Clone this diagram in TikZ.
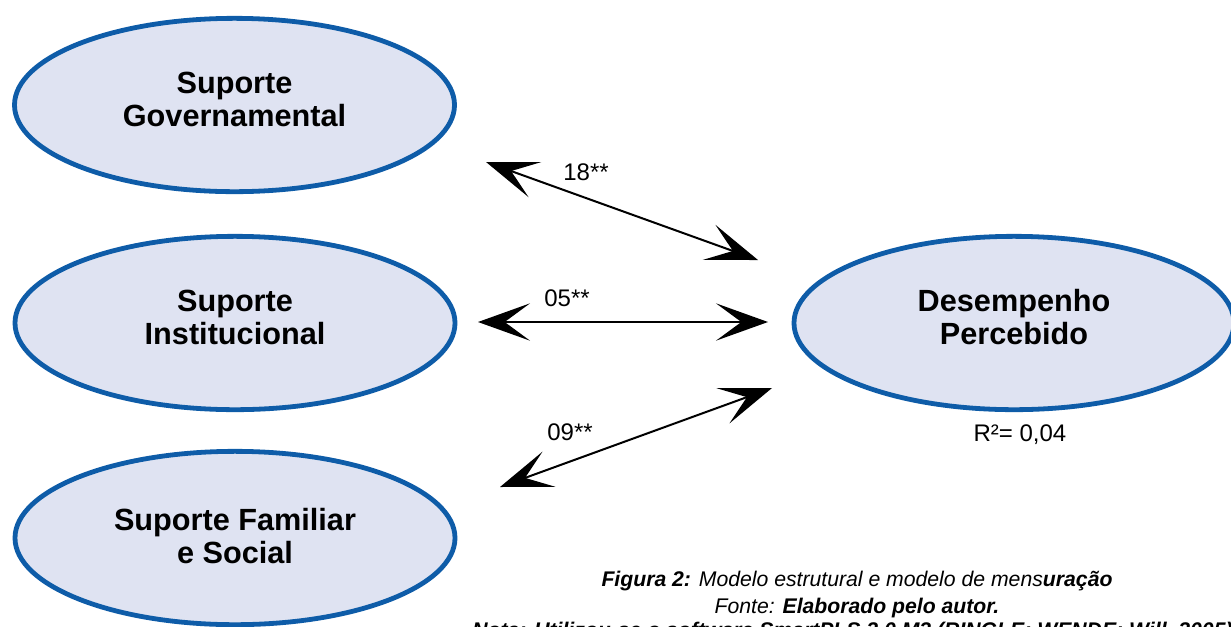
\documentclass[tikz,border=0pt]{standalone}
\usepackage{fontspec}
\setmainfont{Liberation Sans}
\usepackage{tikz}
\usetikzlibrary{arrows.meta,shapes.geometric,positioning}
\definecolor{latentline}{RGB}{14,92,168}
\definecolor{latentfill}{RGB}{223,227,242}

\begin{document}
\begin{tikzpicture}
	[x=0.75pt, y=-0.75pt, inner sep=0pt,
	latent/.style	= {ellipse, draw=latentline, fill=latentfill, line width=3.6pt,
	                   minimum width=330pt, minimum height=130pt, align=center, text depth=9pt,
	                   font=\fontsize{23}{25}\selectfont\bfseries},
	paths/.style	= {{Stealth[length=39pt,width=28pt,inset=19pt]}-{Stealth[length=39pt,width=28pt,inset=19pt]}, line width=1.5pt},
	coef/.style		= {font=\fontsize{18}{20}\selectfont},
	caption/.style	= {font=\fontsize{15.9}{18}\selectfont\itshape, anchor=base}]

	\useasboundingbox (0,0) rectangle (1231,626);
	\clip (0,0) rectangle (1231,626);

	\node at (234.5, 105)	[latent]	(sg)	{Suporte\\Governamental};
	\node at (235, 323)		[latent]	(si)	{Suporte\\Institucional};
	\node at (235, 538)		[latent, text depth=3pt]	(sf)	{Suporte Familiar\\e Social};
	\node at (1014, 323)	[latent]	(dp)	{Desempenho\\Percebido};

	\coordinate (sg-out) at (486, 162);
	\coordinate (si-out) at (478, 322);
	\coordinate (sf-out) at (500, 487);
	\coordinate (dp-in1) at (758, 260);
	\coordinate (dp-in2) at (768, 322);
	\coordinate (dp-in3) at (772, 388);

	\draw [paths] (sg-out) -- (dp-in1);
	\draw [paths] (si-out) -- (dp-in2);
	\draw [paths] (sf-out) -- (dp-in3);

	\node at (586, 172)		[coef]		(c1)	{18**};
	\node at (567, 298)		[coef]		(c2)	{05**};
	\node at (570, 432)		[coef]		(c3)	{09**};
	\node at (1020, 435)	[coef]		(r2)	{R²= 0,04};

	\node at (857, 586)		[caption]	(fig)	{\textbf{Figura 2:} Modelo estrutural e modelo de mens\textbf{uração}};
	\node at (857, 613)		[caption]	(src)	{Fonte: \textbf{Elaborado pelo autor.}};
	\node at (472, 637)		[caption, anchor=base west]	(note)	{\textbf{Nota: Utilizou-se o software SmartPLS 2.0 M3 (RINGLE; WENDE; Will, 2005)}};

\end{tikzpicture}
\end{document}
